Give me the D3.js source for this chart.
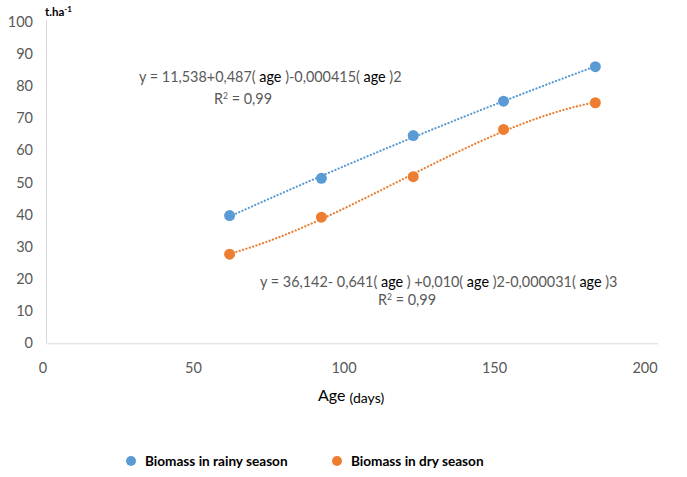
<!DOCTYPE html>
<html>
<head>
<meta charset="utf-8">
<script src="https://cdn.jsdelivr.net/npm/d3@7"></script>
<style>
  body { margin: 0; background: #fff; }
  svg { display: block; font-family: Lato, "Open Sans", sans-serif; }
</style>
</head>
<body>
<svg id="chart" width="687" height="477"></svg>
<script>
// data
var ages = [62, 92.5, 123, 153, 183.5];
var rainy = [39.7, 51.3, 64.6, 75.3, 86.0];
var dry = [27.7, 39.2, 51.8, 66.5, 74.8];
var xTicks = [0, 50, 100, 150, 200];
var yTicks = [0, 10, 20, 30, 40, 50, 60, 70, 80, 90, 100];

var blue = "#5b9bd5", orange = "#ed7d31", grey = "#595959";

var svg = d3.select("#chart");

var x = d3.scaleLinear().domain([0, 200]).range([43, 645]);
var y = d3.scaleLinear().domain([0, 100]).range([343.3, 21.7]);

// least squares polynomial (trendline like excel)
function polyfit(xs, ys, deg) {
    var n = deg + 1, A = [], b = [];
    for (var i = 0; i < n; i++) {
        A.push([]);
        for (var j = 0; j < n; j++) {
            A[i].push(d3.sum(xs, function(v) { return Math.pow(v, i + j); }));
        }
        b.push(d3.sum(xs, function(v, k) { return ys[k] * Math.pow(v, i); }));
    }
    // gauss elimination
    for (var c = 0; c < n; c++) {
        var p = c;
        for (var r = c + 1; r < n; r++) if (Math.abs(A[r][c]) > Math.abs(A[p][c])) p = r;
        var t = A[c]; A[c] = A[p]; A[p] = t;
        t = b[c]; b[c] = b[p]; b[p] = t;
        for (var r2 = c + 1; r2 < n; r2++) {
            var f = A[r2][c] / A[c][c];
            for (var k = c; k < n; k++) A[r2][k] -= f * A[c][k];
            b[r2] -= f * b[c];
        }
    }
    var coef = new Array(n);
    for (var r3 = n - 1; r3 >= 0; r3--) {
        var s = b[r3];
        for (var k2 = r3 + 1; k2 < n; k2++) s -= A[r3][k2] * coef[k2];
        coef[r3] = s / A[r3][r3];
    }
    return function(v) {
        return d3.sum(coef, function(cf, i) { return cf * Math.pow(v, i); });
    };
}

// axes lines
var axisG = svg.append("g");
axisG.append("line")
    .attr("x1", 46.5).attr("x2", 46.5)
    .attr("y1", y(100) - 2).attr("y2", y(0))
    .attr("stroke", "#d9d9d9").attr("stroke-width", 1);
axisG.append("line")
    .attr("x1", 46.5).attr("x2", 658)
    .attr("y1", y(0) + 0.5).attr("y2", y(0) + 0.5)
    .attr("stroke", "#d9d9d9").attr("stroke-width", 1);

// tick labels
svg.append("g").selectAll("text").data(yTicks).enter().append("text")
    .attr("x", 33).attr("y", function(d) { return y(d) + 5; })
    .attr("text-anchor", "end")
    .attr("font-size", 14.5).attr("fill", grey)
    .text(function(d) { return d; });

svg.append("g").selectAll("text").data(xTicks).enter().append("text")
    .attr("x", function(d) { return x(d); }).attr("y", 373)
    .attr("text-anchor", "middle")
    .attr("font-size", 14.5).attr("fill", grey)
    .text(function(d) { return d; });

// axis titles
var xt = svg.append("text").attr("x", 318).attr("y", 401).attr("fill", "#000");
xt.append("tspan").attr("font-size", 16).text("Age ");
xt.append("tspan").attr("font-size", 14).attr("dy", 2).text("(days)");

var yt = svg.append("text").attr("x", 45).attr("y", 16)
    .attr("font-weight", "bold").attr("font-size", 11.5).attr("fill", "#000");
yt.append("tspan").text("t.ha");
yt.append("tspan").attr("font-size", 8).attr("dy", -4).text("-1");

// trendlines + points
var series = [
    { name: "Biomass in rainy season", values: rainy, color: blue, deg: 2 },
    { name: "Biomass in dry season", values: dry, color: orange, deg: 3 }
];

var line = d3.line()
    .x(function(d) { return x(d[0]); })
    .y(function(d) { return y(d[1]); });

series.forEach(function(s) {
    var fit = polyfit(ages, s.values, s.deg);
    var a0 = d3.min(ages), a1 = d3.max(ages);
    var pts = d3.range(0, 61).map(function(i) {
        var a = a0 + (a1 - a0) * i / 60;
        return [a, fit(a)];
    });
    svg.append("path")
        .datum(pts)
        .attr("d", line)
        .attr("fill", "none")
        .attr("stroke", s.color)
        .attr("stroke-width", 2.2)
        .attr("stroke-linecap", "round")
        .attr("stroke-dasharray", "0.1,3.4");
    svg.append("g").selectAll("circle").data(ages).enter().append("circle")
        .attr("cx", function(d) { return x(d); })
        .attr("cy", function(d, i) { return y(s.values[i]); })
        .attr("r", 5.5)
        .attr("fill", s.color);
});

// equations
function equation(xp, yp, parts) {
    var t = svg.append("text").attr("x", xp).attr("y", yp)
        .attr("font-size", 14.4).attr("fill", grey);
    parts.forEach(function(p) {
        t.append("tspan").attr("fill", p[1] ? "#000" : grey).text(p[0]);
    });
    return t;
}
function rsq(xp, yp) {
    var r = svg.append("text").attr("x", xp).attr("y", yp).attr("font-size", 14.4).attr("fill", grey);
    r.append("tspan").text("R");
    r.append("tspan").attr("font-size", 8.5).attr("dy", -5).text("2");
    r.append("tspan").attr("dy", 5).text(" = 0,99");
}
equation(139, 82, [["y = 11,538+0,487("], [" age ", 1], [")-0,000415("], [" age ", 1], [")2"]]);
rsq(214, 104);

equation(260, 287, [["y = 36,142- 0,641("], [" age ", 1], [") +0,010("], [" age ", 1], [")2-0,000031("], [" age ", 1], [")3"]]);
rsq(378, 305);

// legend
var legX = [131, 337];
var leg = svg.append("g").selectAll("g").data(series).enter().append("g")
    .attr("transform", function(d, i) { return "translate(" + legX[i] + ",461)"; });
leg.append("circle").attr("r", 5).attr("fill", function(d) { return d.color; });
leg.append("text").attr("x", 14).attr("y", 4.5)
    .attr("font-size", 13.6).attr("font-weight", "bold").attr("fill", "#000")
    .text(function(d) { return d.name; });
</script>
</body>
</html>
